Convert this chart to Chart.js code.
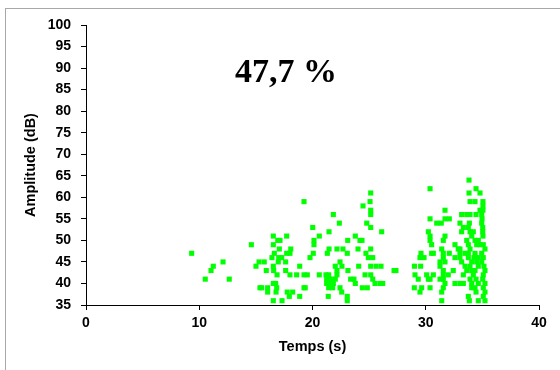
<!DOCTYPE html>
<html>
<head>
<meta charset="utf-8">
<script src="https://cdn.jsdelivr.net/npm/chart.js@4.4.0/dist/chart.umd.min.js"></script>
<style>
  body { margin: 0; background: #fff; }
  #wrap { position: relative; width: 560px; height: 370px; overflow: hidden; }
  #frame { position: absolute; left: 5px; top: 8px; width: 600px; height: 400px; border: 1px solid #a8a8a8; }
  canvas { position: absolute; left: 0; top: 0; }
</style>
</head>
<body>
<div id="wrap">
  <div id="frame"></div>
  <canvas id="scatter" width="560" height="370"></canvas>
</div>
<script>
// time (s) of each event
const temps = [
  9.33, 10.53, 11.04, 11.24, 12.10, 12.65, 14.60, 15.01, 15.28, 15.74,
  15.92, 15.36, 15.51, 16.04, 16.04, 16.54, 16.54, 16.93, 17.07, 16.63,
  16.42, 17.02, 16.54, 16.57, 16.87, 16.54, 16.75, 16.84, 16.78, 16.54,
  16.98, 17.31, 17.13, 17.72, 17.28, 17.72, 18.08, 18.01, 17.63, 17.63,
  18.01, 18.60, 18.87, 19.25, 19.54, 19.25, 19.36, 17.77, 18.25, 17.95,
  18.87, 19.25, 20.02, 20.13, 20.13, 20.60, 20.07, 19.78, 20.60, 21.19,
  21.43, 21.46, 21.31, 21.46, 21.84, 22.37, 22.16, 22.69, 22.01, 22.43,
  22.60, 22.16, 22.16, 21.25, 21.46, 21.78, 22.01, 21.25, 21.57, 21.84,
  21.43, 21.78, 21.39, 22.43, 22.58, 23.07, 23.07, 23.13, 23.11, 23.07,
  23.37, 23.66, 23.78, 23.78, 24.02, 24.08, 24.19, 24.37, 24.46, 24.40,
  24.84, 24.72, 24.79, 24.93, 25.32, 24.64, 25.14, 25.61, 26.05, 25.14,
  25.32, 25.52, 25.96, 26.20, 25.14, 25.14, 25.14, 25.14, 25.08, 25.14,
  26.11, 27.20, 27.37,
  29.00, 29.55, 29.58, 29.49, 29.85, 29.05, 29.34, 28.99, 29.64, 29.49,
  33.82, 30.38, 34.44, 34.79, 33.82, 33.91, 34.35, 35.05, 35.05, 35.05,
  34.79, 31.70, 33.17, 33.62, 33.91, 34.44, 34.94, 34.97, 30.38, 31.70,
  32.08, 30.97, 31.37, 33.02, 33.85, 34.94, 33.32, 33.76, 35.03, 30.23,
  30.38, 33.17, 33.91, 34.20, 35.03, 31.70, 31.55, 34.06, 35.05, 30.38,
  30.52, 32.58, 32.87, 33.62, 33.76, 34.64, 34.35, 34.79, 34.50, 35.08,
  35.23, 33.91, 31.41, 31.55, 30.52, 30.67, 32.08, 33.02, 33.02, 33.47,
  33.76, 34.35, 34.94, 31.55, 32.58, 33.02, 33.76, 34.26, 34.64, 35.08,
  31.26, 31.70, 33.17, 34.06, 34.50, 34.94, 31.26, 31.55, 33.47, 33.91,
  34.64, 35.14, 30.08, 30.67, 31.55, 31.99, 33.32, 34.20, 35.08, 33.62,
  34.06, 34.35, 35.23, 32.43, 30.23, 30.38, 31.26, 31.55, 33.91, 34.44,
  35.03, 32.58, 33.02, 33.32, 34.06, 34.64, 35.23, 31.70, 30.38, 31.55,
  34.06, 34.35, 35.08, 31.41, 34.44, 35.23, 31.41, 33.76, 33.85, 34.64,
  35.23, 35.08
];

// amplitude (dB), same order as temps
const amplitudes = [
  47, 41, 43, 44, 45, 41, 49, 44, 45, 45,
  43, 39, 39, 39, 38, 51, 49, 50, 48, 47,
  46, 46, 44, 43, 42, 40, 40, 39, 38, 36,
  45, 36, 50, 51, 46, 47, 48, 47, 45, 43,
  42, 42, 44, 42, 42, 39, 39, 38, 38, 37,
  37, 59, 53, 50, 49, 51, 47, 46, 42, 42,
  42, 52, 47, 48, 56, 54, 48, 48, 44, 45,
  44, 43, 42, 41, 41, 41, 41, 40, 40, 40,
  39, 39, 37, 39, 38, 37, 36, 43, 50, 47,
  41, 41, 40, 51, 48, 44, 50, 50, 58, 39,
  39, 47, 54, 46, 46, 42, 44, 44, 44, 42,
  41, 40, 40, 40, 48, 53, 56, 57, 59, 61,
  52, 43, 43,
  44, 44, 47, 46, 46, 42, 41, 39, 39, 38,
  64, 62, 62, 61, 61, 59, 59, 59, 58, 57,
  57, 57, 56, 56, 56, 56, 56, 55, 55, 55,
  55, 54, 54, 54, 54, 54, 53, 53, 53, 52,
  51, 52, 52, 52, 52, 51, 50, 51, 51, 50,
  49, 49, 48, 50, 49, 50, 50, 49, 49, 49,
  48, 48, 48, 47, 47, 47, 47, 48, 47, 47,
  47, 47, 47, 46, 46, 46, 46, 46, 46, 46,
  45, 45, 45, 45, 45, 45, 44, 43, 44, 44,
  44, 44, 42, 42, 42, 42, 42, 42, 42, 43,
  43, 43, 43, 43, 41, 41, 41, 41, 41, 41,
  41, 40, 40, 40, 40, 40, 40, 40, 39, 39,
  39, 39, 39, 38, 38, 38, 36, 37, 36, 36,
  36, 37
];

const annotation = '47,7 %';
const xTitle = 'Temps (s)';
const yTitle = 'Amplitude (dB)';

const points = temps.map((t, i) => ({ x: t, y: amplitudes[i] }));

Chart.defaults.font.family = '"Liberation Sans", Arial, sans-serif';
Chart.defaults.color = '#000';

const tickFont = { size: 14, weight: 'bold' };
const titleFont = { size: 14.5, weight: 'bold' };

// big percentage written inside the plot
const percentLabel = {
  id: 'percentLabel',
  afterDraw(chart) {
    const c = chart.ctx;
    c.save();
    c.font = 'bold 34px "Liberation Serif", "Times New Roman", serif';
    c.fillStyle = '#000';
    c.textAlign = 'center';
    c.textBaseline = 'alphabetic';
    c.fillText(annotation, chart.chartArea.left + 200, chart.chartArea.top + 57);
    c.restore();
  }
};

const ctx = document.getElementById('scatter').getContext('2d');

const scatterChart = new Chart(ctx, {
  type: 'scatter',
  data: {
    datasets: [
      {
        data: points,
        backgroundColor: 'rgb(0,255,0)',
        borderWidth: 0,
        pointStyle: 'rect',
        pointRadius: 3.6,
        pointHoverRadius: 3.6
      }
    ]
  },
  options: {
    responsive: false,
    animation: false,
    devicePixelRatio: 1,
    layout: {
      padding: { left: 0, top: 25, right: 21, bottom: 0 }
    },
    scales: {
      x: {
        type: 'linear',
        min: 0,
        max: 40,
        ticks: { stepSize: 10, font: tickFont, padding: 5, color: '#000' },
        grid: { drawOnChartArea: false, drawTicks: true, tickLength: 5, color: '#000' },
        border: { color: '#000', width: 1 },
        title: { display: true, text: xTitle, font: titleFont, color: '#000', padding: { top: 0, bottom: 14 } },
        afterFit(scale) { scale.height = 65; }
      },
      y: {
        type: 'linear',
        min: 35,
        max: 100,
        ticks: { stepSize: 5, font: tickFont, padding: 10, color: '#000' },
        grid: { drawOnChartArea: false, drawTicks: true, tickLength: 5, color: '#000' },
        border: { color: '#000', width: 1 },
        title: { display: true, text: yTitle, font: titleFont, color: '#000', padding: { top: 22, bottom: 0 } },
        afterFit(scale) { scale.width = 86; }
      }
    },
    plugins: {
      legend: { display: false },
      tooltip: { enabled: false }
    }
  },
  plugins: [ percentLabel ]
});
</script>
</body>
</html>
